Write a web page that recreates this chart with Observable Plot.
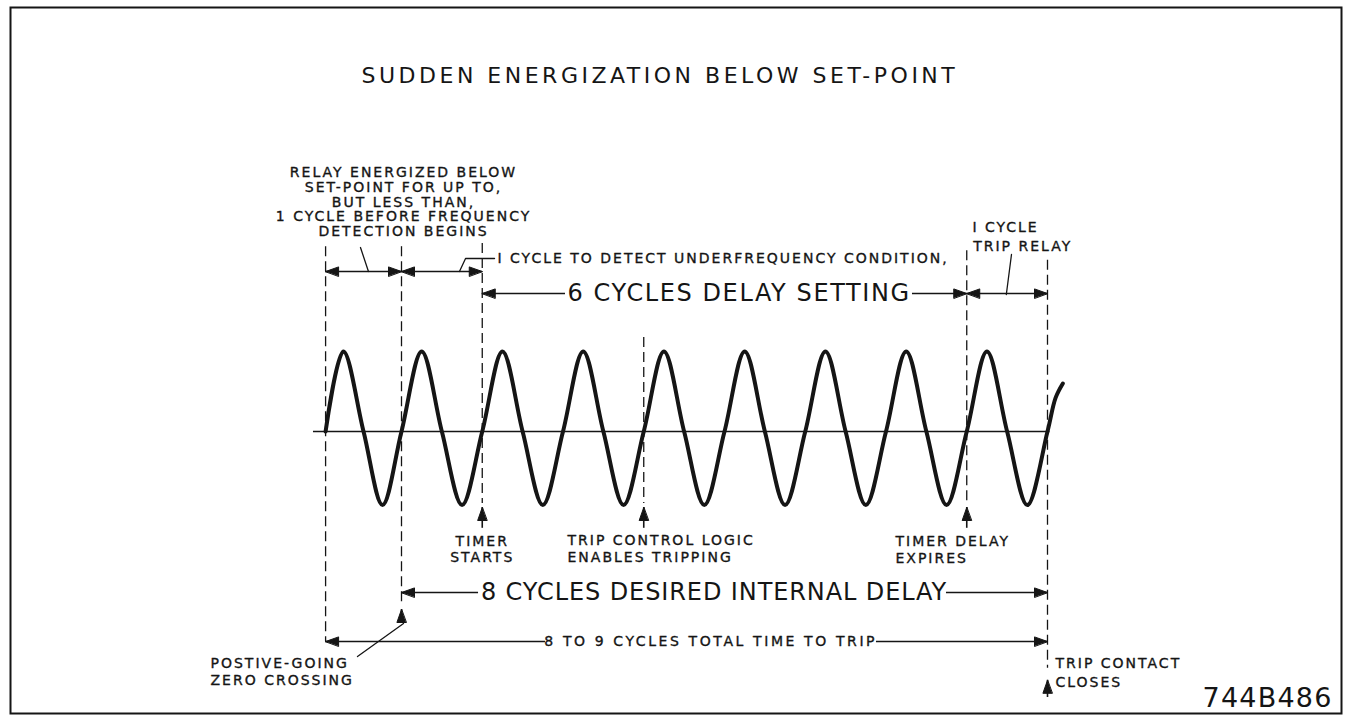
<!DOCTYPE html>
<html>
<head>
<meta charset="utf-8">
<script src="https://cdn.jsdelivr.net/npm/d3@7"></script>
<script src="https://cdn.jsdelivr.net/npm/@observablehq/plot@0.6"></script>
<style>
html, body { margin: 0; padding: 0; background: #fff; overflow: hidden; }
#chart svg { display: block; }
</style>
</head>
<body>
<div id="chart"></div>
<script>
// ---------- DATA (x in cycles from the positive-going zero crossing, y in peak-amplitude units) ----------
const waveX = [-0.94, -0.72, -0.47, -0.235,
  0, 0.25, 0.5, 0.75,
  1, 1.25, 1.5, 1.75,
  2, 2.25, 2.5, 2.75,
  3, 3.25, 3.5, 3.75,
  4, 4.25, 4.5, 4.75,
  5, 5.25, 5.5, 5.75,
  6, 6.25, 6.5, 6.75,
  7, 7.25, 7.5, 7.75,
  8, 8.1, 8.19];
const waveY = [0, 1, 0, -0.92,
  0, 1, 0, -0.92,
  0, 1, 0, -0.92,
  0, 1, 0, -0.92,
  0, 1, 0, -0.92,
  0, 1, 0, -0.92,
  0, 1, 0, -0.92,
  0, 1, 0, -0.92,
  0, 1, 0, -0.92,
  0, 0.42, 0.6];

// event instants (cycles) marked with dashed lines
const eventX    = [-0.94, 0, 1, 3, 7, 8];
const eventTop  = [2.31, 2.31, 2.35, 1.175, 2.26, 2.14];
const eventBot  = [-2.625, -2.175, -0.9, -0.9, -0.9, -2.96];

// dimension spans: start cycle, end cycle, level, and the gap left for a label (cycles)
const spanStart = [-0.94, 0, 1, 7, 0, -0.94];
const spanEnd   = [0, 1, 7, 8, 8, 8];
const spanLevel = [2.0, 2.0, 1.725, 1.725, -2.0125, -2.625];
const spanGapStart = [null, null, 2.031, null, 0.954, 1.783];
const spanGapEnd   = [null, null, 6.328, null, 6.749, 5.882];

// upward pointer arrows: cycle, tip level, tail level
const pointerX    = [1, 3, 7, 0, 8];
const pointerTip  = [-0.95, -0.95, -0.95, -2.225, -3.11];
const pointerTail = [-1.21, -1.21, -1.21, -2.4, -3.325];

// leader lines
const leaders = [
  {id: "a", pts: [[-0.409, 2.0], [-0.508, 2.3]]},
  {id: "b", pts: [[0.718, 2.0], [0.793, 2.1625], [1.152, 2.1625]]},
  {id: "c", pts: [[7.49, 1.7125], [7.554, 2.2125]]},
  {id: "d", pts: [[-0.545, -2.8125], [0.025, -2.4]]}
];

// texts
const titleText = "SUDDEN ENERGIZATION BELOW SET-POINT";
const centeredNotes = ["RELAY ENERGIZED BELOW", "SET-POINT FOR UP TO,", "BUT LESS THAN,",
  "1 CYCLE BEFORE FREQUENCY", "DETECTION BEGINS", "TIMER", "STARTS"];
const centeredX = [0.025, 0.025, 0.025, 0.025, 0.025, 1.0, 1.0];
const centeredY = [3.2375, 3.05, 2.8625, 2.6875, 2.5, -1.375, -1.575];
const leftNotes = ["I CYCLE TO DETECT UNDERFREQUENCY CONDITION,",
  "I CYCLE", "TRIP RELAY",
  "TRIP CONTROL LOGIC", "ENABLES TRIPPING",
  "TIMER DELAY", "EXPIRES",
  "POSTIVE-GOING", "ZERO CROSSING",
  "TRIP CONTACT", "CLOSES"];
const leftX = [1.189, 7.07, 7.08, 2.056, 2.056, 6.117, 6.117, -2.365, -2.365, 8.099, 8.099];
const leftY = [2.1625, 2.55, 2.3125, -1.3625, -1.575, -1.375, -1.5875, -2.9, -3.1125, -2.9, -3.1375];

const bigSpanText = ["6 CYCLES DELAY SETTING", "8 CYCLES DESIRED INTERNAL DELAY"];
const bigSpanX = [4.18, 3.87];
const bigSpanY = [1.725, -2.0125];
const smallSpanText = ["8 TO 9 CYCLES TOTAL TIME TO TRIP"];
const smallSpanX = [3.83];
const smallSpanY = [-2.625];
const drawingNo = "744B486";

// ---------- LAYOUT ----------
const W = 1348, H = 717;
const pxPerCycle = 80.75, pxPerUnit = 80, originX = 401, originY = 431;
const xDomain = [-originX / pxPerCycle, (W - originX) / pxPerCycle];
const yDomain = [-(H - originY) / pxPerUnit, originY / pxPerUnit];
const ink = "#151515";

// ---------- DERIVED TABLES ----------
const wave = waveX.map((x, i) => ({x, y: waveY[i]}));
const events = eventX.map((x, i) => ({x, y1: eventTop[i], y2: eventBot[i]}));
const spans = spanStart.map((x1, i) => ({x1, x2: spanEnd[i], y: spanLevel[i]}));
const spanSegments = spans.flatMap((s, i) => spanGapStart[i] == null ? [s]
  : [{x1: s.x1, x2: spanGapStart[i], y: s.y}, {x1: spanGapEnd[i], x2: s.x2, y: s.y}]);
const pointers = pointerX.map((x, i) => ({x, y1: pointerTip[i], y2: pointerTail[i]}));
const leaderPts = leaders.flatMap(l => l.pts.map(([x, y]) => ({id: l.id, x, y})));
const centered = centeredNotes.map((text, i) => ({text, x: centeredX[i], y: centeredY[i]}));
const lefts = leftNotes.map((text, i) => ({text, x: leftX[i], y: leftY[i]}));
const bigLabels = bigSpanText.map((text, i) => ({text, x: bigSpanX[i], y: bigSpanY[i]}));
const smallLabels = smallSpanText.map((text, i) => ({text, x: smallSpanX[i], y: smallSpanY[i]}));

// filled arrowheads (size in pixels converted to data units)
const HL = 13, HW = 4.6;
const headPts = [];
let headId = 0;
function head(x, y, dir) {
  const id = headId++;
  const lx = HL / pxPerCycle, ly = HL / pxPerUnit, wx = HW / pxPerCycle, wy = HW / pxPerUnit;
  let pts;
  if (dir === "R") pts = [[x, y], [x - lx, y + wy], [x - lx, y - wy]];
  else if (dir === "L") pts = [[x, y], [x + lx, y + wy], [x + lx, y - wy]];
  else pts = [[x, y], [x - wx, y - ly], [x + wx, y - ly]];
  for (const [px, py] of pts) headPts.push({id, x: px, y: py});
}
spans.forEach(s => { head(s.x1, s.y, "L"); head(s.x2, s.y, "R"); });
pointers.forEach(p => head(p.x, p.y1, "U"));

const fontFamily = "'DejaVu Sans', 'Liberation Sans', sans-serif";

const chart = Plot.plot({
  width: W,
  height: H,
  margin: 0,
  x: {domain: xDomain, range: [0, W], axis: null},
  y: {domain: yDomain, range: [H, 0], axis: null},
  style: {background: "#fff", fontFamily},
  marks: [
    Plot.frame({stroke: ink, strokeWidth: 2, insetLeft: 10, insetTop: 7, insetRight: 7, insetBottom: 4}),
    Plot.ruleY([0], {x1: -1.09, x2: 8.03, stroke: ink, strokeWidth: 1.5}),
    Plot.ruleX(events, {x: "x", y1: "y1", y2: "y2", stroke: ink, strokeWidth: 1.3, strokeDasharray: "10,5"}),
    Plot.line(wave, {x: "x", y: "y", curve: "catmull-rom", stroke: ink, strokeWidth: 4, strokeLinecap: "round"}),
    Plot.ruleY(spanSegments, {y: "y", x1: "x1", x2: "x2", stroke: ink, strokeWidth: 1.5}),
    Plot.ruleX(pointers, {x: "x", y1: "y1", y2: "y2", stroke: ink, strokeWidth: 1.6}),
    Plot.line(leaderPts, {x: "x", y: "y", z: "id", stroke: ink, strokeWidth: 1.3}),
    Plot.line(headPts, {x: "x", y: "y", z: "id", curve: "linear-closed", fill: ink, stroke: ink, strokeWidth: 1}),
    // 0: title
    Plot.text([titleText], {x: 3.2, y: 4.45, text: d => d, fontSize: 22, fill: ink,
      textAnchor: "middle", lineAnchor: "middle"}),
    // 1: centered notes
    Plot.text(centered, {x: "x", y: "y", text: "text", textAnchor: "middle", fontSize: 14, fill: ink,
      lineAnchor: "middle", stroke: ink, strokeWidth: 0.35}),
    // 2: left-aligned notes
    Plot.text(lefts, {x: "x", y: "y", text: "text", textAnchor: "start", fontSize: 14, fill: ink,
      lineAnchor: "middle", stroke: ink, strokeWidth: 0.35}),
    // 3: big span labels
    Plot.text(bigLabels, {x: "x", y: "y", text: "text", fontSize: 24, fill: ink,
      textAnchor: "middle", lineAnchor: "middle"}),
    // 4: small span label
    Plot.text(smallLabels, {x: "x", y: "y", text: "text", fontSize: 14, fill: ink,
      textAnchor: "middle", lineAnchor: "middle", stroke: ink, strokeWidth: 0.35}),
    // 5: drawing number
    Plot.text([drawingNo], {x: 11.53, y: -3.3375, text: d => d, fontSize: 27, fill: ink,
      textAnchor: "end", lineAnchor: "middle"})
  ]
});

const spacing = [3.5, 2, 2, 1.2, 2.6, 1.2];
const groups = chart.querySelectorAll("g[aria-label='text']");
groups.forEach((g, i) => {
  if (spacing[i] != null) g.setAttribute("letter-spacing", spacing[i]);
});
// individual spacing for the two large dimension labels
const bigSpacing = [1.6, 0.9];
if (groups[3]) groups[3].querySelectorAll("text").forEach((t, i) => t.setAttribute("letter-spacing", bigSpacing[i]));
document.getElementById("chart").append(chart);
</script>
</body>
</html>
